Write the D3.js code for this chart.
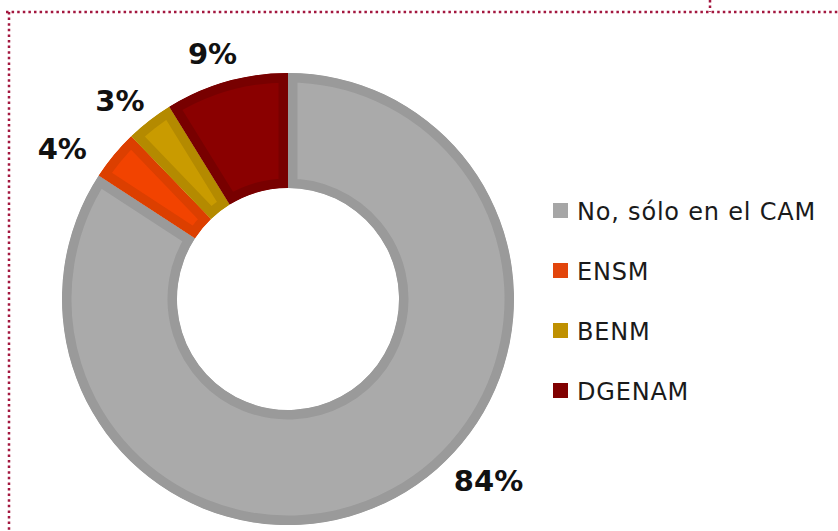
<!DOCTYPE html>
<html>
<head>
<meta charset="utf-8">
<script src="https://d3js.org/d3.v7.min.js"></script>
<style>
  body { margin: 0; background: #fff; }
  svg { display: block; }
</style>
</head>
<body>
<div id="chart"></div>
<script>
// data
var categories = ["No, sólo en el CAM", "ENSM", "BENM", "DGENAM"];
var values = [84.2, 3.6, 3.4, 8.8];
var labels = ["84%", "4%", "3%", "9%"];

var fills = ["#aaaaaa", "#f24300", "#c99b00", "#8a0000"];
var borders = ["#9a9a9a", "#dc3f00", "#b48a00", "#780000"];
var swatches = ["#a6a6a6", "#e2450c", "#bf9000", "#800000"];

var width = 838, height = 531;
var cx = 288, cy = 299;
var outerR = 226, innerR = 111;

var svg = d3.select("#chart").append("svg")
    .attr("width", width)
    .attr("height", height);

// dotted frame
var frameColor = "#a3173f";
function dotted(x1, y1, x2, y2) {
  svg.append("line")
    .attr("x1", x1).attr("y1", y1).attr("x2", x2).attr("y2", y2)
    .attr("stroke", frameColor)
    .attr("stroke-width", 2.5)
    .attr("stroke-dasharray", "2.5,3.1");
}
dotted(6, 12, 838, 12);
dotted(9, 12, 9, 531);
dotted(710, 0, 710, 12);

var pie = d3.pie().sort(null).value(function(d) { return d; });
var arcs = pie(values);
var arc = d3.arc().innerRadius(innerR).outerRadius(outerR);

var g = svg.append("g").attr("transform", "translate(" + cx + "," + cy + ")");

var defs = svg.append("defs");
arcs.forEach(function(a, i) {
  defs.append("clipPath").attr("id", "clip" + i)
    .append("path").attr("d", arc(a));
});

// slices, border drawn inside each slice via clip
g.selectAll("path.slice")
  .data(arcs)
  .enter().append("path")
  .attr("class", "slice")
  .attr("d", arc)
  .attr("fill", function(d, i) { return fills[i]; })
  .attr("stroke", function(d, i) { return borders[i]; })
  .attr("stroke-width", 19)
  .attr("stroke-linejoin", "miter")
  .attr("clip-path", function(d, i) { return "url(#clip" + i + ")"; });

// label placement nudges (degrees, radius)
var labelLayout = [
  { da: -19.3, r: 271 },
  { da: -6.0, r: 271 },
  { da: -2.5, r: 260 },
  { da: -1.3, r: 256 }
];

g.selectAll("text.lbl")
  .data(arcs)
  .enter().append("text")
  .attr("class", "lbl")
  .attr("x", function(d, i) {
    var a = (d.startAngle + d.endAngle) / 2 + labelLayout[i].da * Math.PI / 180;
    return labelLayout[i].r * Math.sin(a);
  })
  .attr("y", function(d, i) {
    var a = (d.startAngle + d.endAngle) / 2 + labelLayout[i].da * Math.PI / 180;
    return -labelLayout[i].r * Math.cos(a);
  })
  .attr("text-anchor", "middle")
  .attr("dominant-baseline", "central")
  .attr("font-family", "'DejaVu Sans', sans-serif")
  .attr("font-weight", "bold")
  .attr("font-size", 29)
  .attr("fill", "#111")
  .text(function(d, i) { return labels[i]; });

// legend
var ly = d3.scalePoint().domain(categories).range([210.5, 390.5]);
var legend = svg.append("g");
var items = legend.selectAll("g")
  .data(categories)
  .enter().append("g")
  .attr("transform", function(d) { return "translate(553," + ly(d) + ")"; });

items.append("rect")
  .attr("x", 0).attr("y", -7.5)
  .attr("width", 15).attr("height", 15)
  .attr("fill", function(d, i) { return swatches[i]; });

items.append("text")
  .attr("x", 24)
  .attr("y", 1)
  .attr("dominant-baseline", "central")
  .attr("font-family", "'DejaVu Sans', sans-serif")
  .attr("font-size", 24)
  .attr("letter-spacing", 0.8)
  .attr("fill", "#1a1a1a")
  .text(function(d) { return d; });
</script>
</body>
</html>
